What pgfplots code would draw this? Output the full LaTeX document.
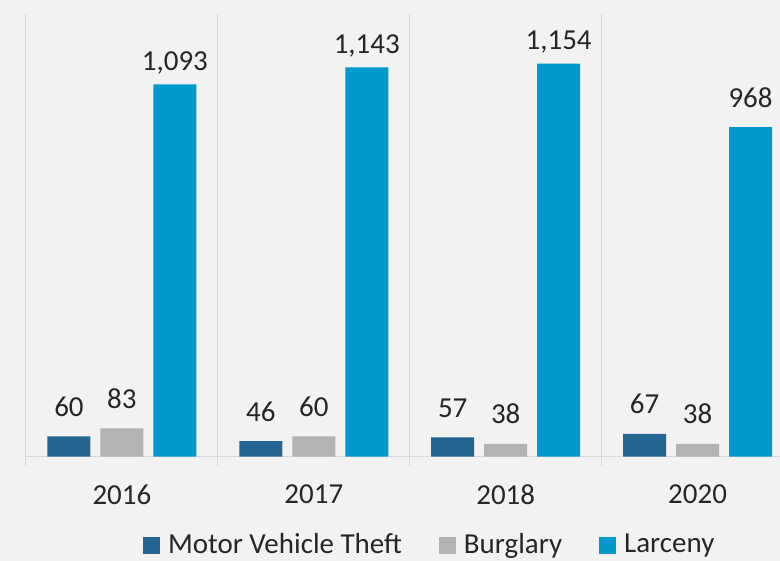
\documentclass[border=0pt]{standalone}
\usepackage{fontspec}
\setmainfont{Carlito}
\usepackage{pgfplots}
\pgfplotsset{compat=1.18}
\definecolor{bgc}{HTML}{F2F2F2}
\definecolor{gridc}{HTML}{D9D9D9}
\definecolor{mvt}{HTML}{246592}
\definecolor{burg}{HTML}{B3B3B3}
\definecolor{larc}{HTML}{0099CC}
\definecolor{txt}{HTML}{262626}

\begin{document}
\fontsize{29}{35}\selectfont
\begin{tikzpicture}
\fill[bgc] (0pt,0pt) rectangle (780pt,561pt);
\begin{axis}[
    at={(26pt,104pt)}, anchor=south west,
    scale only axis, width=754pt, height=443pt,
    xmin=-0.5, xmax=3.427, ymin=0, ymax=1300,
    enlargelimits=false, clip=false,
    ybar=10pt, bar width=43pt,
    axis x line*=bottom, axis y line=none, ytick=\empty,
    axis line style={gridc, line width=1pt},
    xtick={0,1,2,3}, xticklabels={2016,2017,2018,2020},
    major tick length=0pt,
    minor xtick={-0.5,0.5,1.5,2.5},
    minor tick length=9pt, tick align=outside,
    tick style={gridc, line width=1pt},
    xminorgrids=true,
    minor grid style={gridc, line width=1pt},
    xticklabel style={text=txt, inner sep=0pt, anchor=north, yshift=-28pt},
    /pgf/number format/assume math mode=true,
    /pgf/number format/1000 sep={,},
    nodes near coords,
    every node near coord/.append style={text=txt, inner sep=0pt, anchor=base, yshift=20pt},
    legend columns=3,
    legend style={draw=none, fill=none, at={(0.5345,-0.2009)}, anchor=center,
        text=txt, inner sep=0pt, nodes={inner sep=0pt},
        /tikz/every odd column/.append style={column sep=8pt},
        /tikz/every even column/.append style={column sep=37pt}},
    legend image code/.code={\fill[#1, draw=none] (0pt,-8.5pt) rectangle (17pt,8.5pt);},
]
\addplot[fill=mvt, draw=none] coordinates {(0,60) (1,46) (2,57) (3,67)};
\addplot[fill=burg, draw=none] coordinates {(0,83) (1,60) (2,38) (3,38)};
\addplot[fill=larc, draw=none,
    visualization depends on={\thisrow{s} \as \lshift},
    every node near coord/.append style={yshift=\lshift pt-20pt}] table {
x y s
0 1093 14
1 1143 14
2 1154 14
3 968 20
};
\legend{Motor Vehicle Theft, Burglary, Larceny}
\end{axis}
\end{tikzpicture}
\end{document}
